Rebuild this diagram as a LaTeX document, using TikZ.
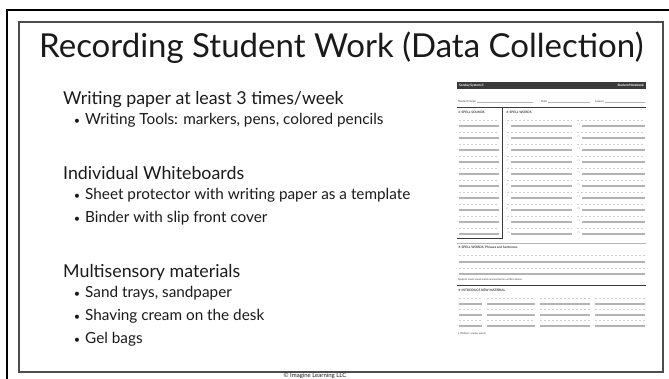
\documentclass[tikz,border=0pt]{standalone}
\usepackage{fontspec}
\setmainfont{Lato}
\newfontfamily\glyphs{DejaVu Sans}
\definecolor{ink}{HTML}{1A1A1A}
\definecolor{slideline}{HTML}{4D4D4D}
\definecolor{wsdark}{HTML}{3A3A3A}
\definecolor{wsgray}{HTML}{B4B4B4}
\definecolor{wslight}{HTML}{CFCFCF}
\tikzset{
    title/.style={anchor=base west, inner sep=0pt, text=ink, font=\fontsize{33}{38}\selectfont},
    heading/.style={anchor=base west, inner sep=0pt, text=ink, font=\fontsize{17.8}{20}\selectfont},
    item/.style={anchor=base west, inner sep=0pt, text=ink, font=\fontsize{15.3}{18}\selectfont},
    dot/.style={anchor=base, inner sep=0pt, text=ink, font=\fontsize{11}{13}\selectfont},
    wsdash/.style={draw=wslight, line width=0.6pt, dash pattern=on 2.4pt off 1.6pt},
    wsline/.style={draw=wsgray, line width=1.1pt},
    wsthin/.style={draw=wsgray, line width=0.4pt},
    wsrule/.style={draw=wsdark, line width=0.9pt},
    wstext/.style={anchor=base west, inner sep=0pt, text=wsdark, font=\fontsize{3.2}{4}\selectfont\bfseries}
}

\begin{document}
\begin{tikzpicture}[x=1pt,y=-1pt]
\tikzstyle{wsnum}=[anchor=base west, inner sep=0pt, text=wsgray, font=\fontsize{2.6}{3}\selectfont]
\tikzstyle{wshead}=[wstext, text=white]
\useasboundingbox (0,0) rectangle (669,379);
\clip (0,0) rectangle (669,379);

\draw[line width=2pt] (7,390) -- (7,10) -- (680,10);
\draw[slideline, line width=1.1pt] (19,22) rectangle (663,372);

\node[title] (title) at (39,58) {Recording Student Work (Data Collection)};

\node[heading] (h1) at (63,105) {Writing paper at least 3 times/week};
\node[heading] (h2) at (63,180) {Individual Whiteboards};
\node[heading] (h3) at (63,277) {Multisensory materials};

\foreach \y/\n/\t in {125/b1/{Writing Tools: markers, pens, colored pencils},
        200/b2/{Sheet protector with writing paper as a template},
        223/b3/{Binder with slip front cover},
        298/b4/{Sand trays, sandpaper},
        320/b5/{Shaving cream on the desk},
        343/b6/{Gel bags}}{
    \node[dot] (\n-dot) at (77,\y) {•};
    \node[item] (\n) at (85,\y) {\t};
}

\node[anchor=base, inner sep=0pt, text=ink, font=\fontsize{6}{7}\selectfont] (copy) at (315,377.4) {© Imagine Learning LLC};

% worksheet
\fill[wsdark] (457,82) rectangle (646,89);
\node[wshead] (brand) at (459,86.8) {Sonday System II};
\node[wshead, anchor=base east] (book) at (644,86.8) {Student Notebook};

\node[wstext, font=\fontsize{2.8}{3}\selectfont] (sname) at (458,102.3) {Student Name};
\node[wstext, font=\fontsize{2.8}{3}\selectfont] (sdate) at (541,102.3) {Date};
\node[wstext, font=\fontsize{2.8}{3}\selectfont] (slesson) at (595,102.3) {Lesson};
\draw[wsthin] (sname.base east) ++(1,0.4) -- (533,102.7);
\draw[wsthin] (sdate.base east) ++(1,0.4) -- (590,102.7);
\draw[wsthin] (slesson.base east) ++(1,0.4) -- (645,102.7);
\draw[wsrule] (457,107) -- (646,107);
\draw[wsrule] (502,107) -- (502,238) -- (457,238);

\node[wstext] (sounds) at (458,114) {{\glyphs ①} SPELL SOUNDS};
\node[wstext] (words) at (506,114) {{\glyphs ②} SPELL WORDS};

\foreach \k in {0,...,9}{
    \pgfmathsetmacro\yd{120+12*\k}
    \pgfmathsetmacro\ys{126+12*\k}
    \pgfmathtruncatemacro\na{\k+1}
    \pgfmathtruncatemacro\nb{\k+11}
    \foreach \a/\b in {459/499, 507/572, 577/645}
        \draw[wsdash] (\a,\yd) -- (\b,\yd);
    \draw[wsline] (459,\ys) -- (499,\ys);
    \draw[wsline] (511,\ys) -- (572,\ys);
    \draw[wsline] (582,\ys) -- (645,\ys);
    \node[wsnum] (n\na) at (506.5,\ys) {\na.};
    \node[wsnum] (n\nb) at (577,\ys) {\nb.};
}

\draw[wsthin] (457,243) -- (646,243);
\node[wstext] (phrases) at (458,249) {{\glyphs ③} SPELL WORDS, Phrases and Sentences};
\foreach \y in {255,268}
    \draw[wsdash] (459,\y) -- (645,\y);
\foreach \y in {262,274}
    \draw[wsline] (459,\y) -- (645,\y);
\node[wstext, font=\fontsize{2.6}{3}\selectfont] (reads) at (458,280.5) {Student reads visual words and sentences written above};
\draw[wsrule] (457,285) -- (646,285);

\node[wstext] (newmat) at (458,291) {{\glyphs ④} INTRODUCE NEW MATERIAL};
\foreach \k in {0,1,2}{
    \pgfmathsetmacro\yd{298+11*\k}
    \pgfmathsetmacro\ys{304+11*\k}
    \foreach \a/\b in {459/482, 487/535, 540/590, 595/645}{
        \draw[wsdash] (\a,\yd) -- (\b,\yd);
        \draw[wsline] (\a,\ys) -- (\b,\ys);
    }
}
\node[wstext, font=\fontsize{2.6}{3}\selectfont] (foot) at (458,334) {• Written: review words};
\end{tikzpicture}
\end{document}
